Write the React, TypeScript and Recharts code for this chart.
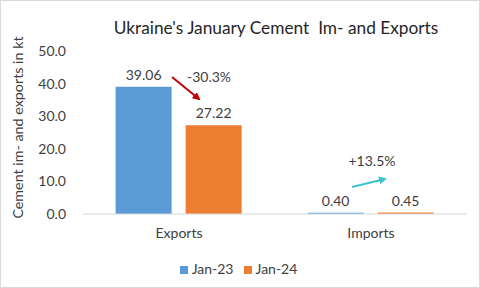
import { BarChart, Bar, XAxis, YAxis, Legend, LabelList, Label } from 'recharts';

const categories = ['Exports', 'Imports'];
const jan23 = [39.06, 0.4];
const jan24 = [27.22, 0.45];
const yTicks = [0, 10, 20, 30, 40, 50];
const changes = ['-30.3%', '+13.5%'];

const data = categories.map((c, i) => ({ name: c, jan23: jan23[i], jan24: jan24[i] }));

const FONT = 'Lato, "Open Sans", sans-serif';
const TEXT = '#404040';

export default function App() {
  return (
    <div
      style={{
        position: 'absolute', top: 0, left: 0, width: 480, height: 288,
        boxSizing: 'border-box', border: '1px solid #d9d9d9', background: '#fff',
        fontFamily: FONT,
      }}
    >
      <div
        style={{
          position: 'absolute', top: 16, left: 80, width: 390, textAlign: 'center',
          fontSize: 17.3, fontWeight: 400, color: '#262626', whiteSpace: 'pre',
        }}
      >
        Ukraine's January Cement  Im- and Exports
      </div>
      <div style={{ position: 'absolute', top: -1, left: -1 }}>
        <BarChart
          width={480}
          height={288}
          data={data}
          margin={{ top: 51, right: 13, bottom: 24, left: 0 }}
          barCategoryGap="17%"
          barGap={14}
        >
          <XAxis
            dataKey="name"
            height={30}
            tick={{ fontSize: 14, fill: TEXT, fontFamily: FONT }}
            tickLine={false}
            axisLine={{ stroke: '#d9d9d9' }}
            tickMargin={8}
          />
          <YAxis
            domain={[0, 50]}
            ticks={yTicks}
            tickFormatter={(v: number) => v.toFixed(1)}
            tick={{ fontSize: 14, fill: TEXT, fontFamily: FONT }}
            axisLine={false}
            tickLine={false}
            width={83}
            tickMargin={11}
          >
            <Label
              value="Cement im- and exports in kt"
              angle={-90}
              position="insideLeft"
              offset={18}
              dy={-5}
              style={{ fontSize: 14.3, fill: TEXT, fontFamily: FONT, textAnchor: 'middle' }}
            />
          </YAxis>
          <Legend
            height={20}
            iconType="square"
            iconSize={8}
            wrapperStyle={{ bottom: 10, left: 10 }}
            formatter={(v: string) => <span style={{ color: TEXT, fontSize: 14, fontFamily: FONT }}>{v}</span>}
          />
          <Bar dataKey="jan23" name="Jan-23" fill="#5b9bd5" isAnimationActive={false}>
            <LabelList dataKey="jan23" position="top" offset={7} formatter={(v: number) => v.toFixed(2)}
              style={{ fontSize: 14, fill: TEXT, fontFamily: FONT }} />
          </Bar>
          <Bar dataKey="jan24" name="Jan-24" fill="#ed7d31" isAnimationActive={false}>
            <LabelList dataKey="jan24" position="top" offset={7} formatter={(v: number) => v.toFixed(2)}
              style={{ fontSize: 14, fill: TEXT, fontFamily: FONT }} />
          </Bar>
        </BarChart>
      </div>
      <svg width={480} height={288} style={{ position: 'absolute', top: -1, left: -1, pointerEvents: 'none' }}>
        <defs>
          <marker id="ar" markerWidth="4" markerHeight="4" refX="3" refY="2" orient="auto" markerUnits="strokeWidth">
            <path d="M0,0 L4,2 L0,4 z" fill="#c00000" />
          </marker>
          <marker id="at" markerWidth="4" markerHeight="4" refX="3" refY="2" orient="auto" markerUnits="strokeWidth">
            <path d="M0,0 L4,2 L0,4 z" fill="#3cc2c8" />
          </marker>
        </defs>
        <line x1={172} y1={77} x2={199} y2={99} stroke="#c00000" strokeWidth={2} markerEnd="url(#ar)" />
        <line x1={352} y1={187} x2={385} y2={179} stroke="#3cc2c8" strokeWidth={2} markerEnd="url(#at)" />
        <text x={209} y={82} textAnchor="middle" fontSize={14} fill={TEXT} fontFamily={FONT}>{changes[0]}</text>
        <text x={372} y={166} textAnchor="middle" fontSize={14} fill={TEXT} fontFamily={FONT}>{changes[1]}</text>
      </svg>
    </div>
  );
}
